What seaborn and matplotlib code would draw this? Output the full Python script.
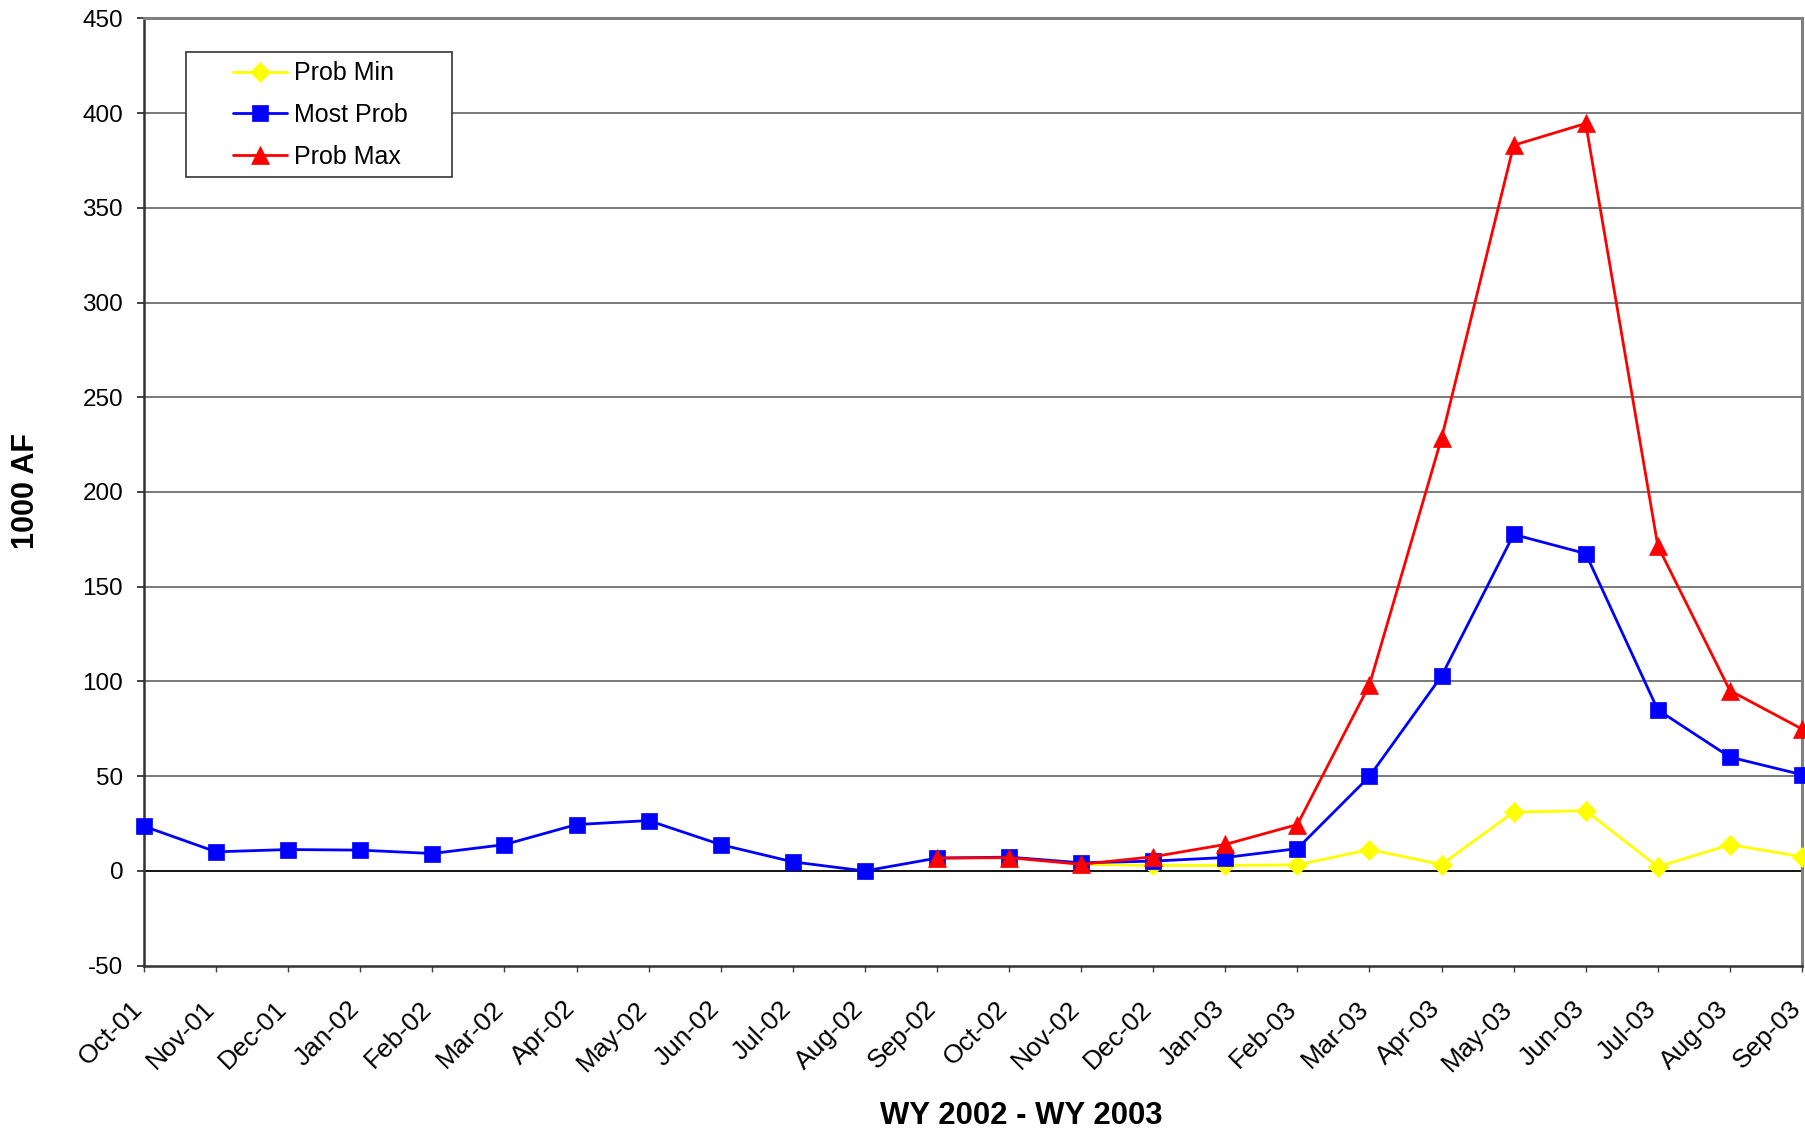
import numpy as np
import pandas as pd
import matplotlib
matplotlib.use("Agg")
import matplotlib.pyplot as plt
from matplotlib.patches import Rectangle
import seaborn as sns

# Monthly runoff forecast, water years 2002-2003 (1000 acre-feet)
months = ["Oct-01", "Nov-01", "Dec-01", "Jan-02", "Feb-02", "Mar-02", "Apr-02",
          "May-02", "Jun-02", "Jul-02", "Aug-02", "Sep-02", "Oct-02", "Nov-02",
          "Dec-02", "Jan-03", "Feb-03", "Mar-03", "Apr-03", "May-03", "Jun-03",
          "Jul-03", "Aug-03", "Sep-03"]

most_prob = [23.6, 10.1, 11.3, 11.0, 9.2, 13.9, 24.5, 26.6, 13.9, 4.8, 0.0,
             6.8, 7.3, 4.3, 5.2, 7.1, 11.8, 49.9, 102.9, 177.6, 167.5, 85.0,
             60.1, 50.8]

# forecast bounds begin later in the record
max_months = months[11:]
prob_max = [6.8, 7.0, 3.5, 7.5, 14.0, 24.5, 98.3, 228.4, 383.0, 394.5, 171.5,
            95.2, 74.9]

min_months = months[13:]
prob_min = [3.5, 2.9, 2.9, 3.2, 11.3, 3.4, 31.1, 31.8, 2.2, 13.9, 7.5]

y_ticks = list(range(-50, 451, 50))

sns.set_theme(style="white")
plt.rcParams["font.family"] = ["Liberation Sans", "DejaVu Sans"]
plt.rcParams.update({"text.color": "black", "axes.labelcolor": "black",
                     "xtick.color": "black", "ytick.color": "black"})

W, H = 1806, 1137
fig = plt.figure(figsize=(W / 100, H / 100), dpi=100)
ax = fig.add_axes([144 / W, 1 - 965.7 / H, (1802 - 144) / W, (965.7 - 18.3) / H])

pos = {m: i for i, m in enumerate(months)}

df_min = pd.DataFrame({"x": [pos[m] for m in min_months], "y": prob_min})
df_most = pd.DataFrame({"x": [pos[m] for m in months], "y": most_prob})
df_max = pd.DataFrame({"x": [pos[m] for m in max_months], "y": prob_max})

# horizontal gridlines
for v in y_ticks:
    if v == 0:
        ax.axhline(0, color="black", lw=1.3, zorder=1)
    elif v not in (-50, 450):
        ax.axhline(v, color="#6e6e6e", lw=1.3, zorder=1)

sns.lineplot(data=df_min, x="x", y="y", ax=ax, color="#ffff00", lw=2.0,
             marker="D", markersize=10.5, markeredgecolor="#ffff00",
             markeredgewidth=0.5, label="Prob Min", zorder=3, clip_on=False)
sns.lineplot(data=df_most, x="x", y="y", ax=ax, color="#0000ff", lw=2.0,
             marker="s", markersize=11.5, markeredgecolor="#0000ff",
             markeredgewidth=0.5, label="Most Prob", zorder=4, clip_on=False)
sns.lineplot(data=df_max, x="x", y="y", ax=ax, color="#ff0000", lw=2.0,
             marker="^", markersize=13, markeredgecolor="#ff0000",
             markeredgewidth=0.5, label="Prob Max", zorder=5, clip_on=False)

ax.set_xlim(0, len(months) - 1)
ax.set_ylim(-50, 450)
ax.set_yticks(y_ticks)
ax.set_yticklabels([str(v) for v in y_ticks], fontsize=17.5)
ax.set_xticks(range(len(months)))
ax.set_xticklabels(months, fontsize=19, rotation=45, ha="right",
                   va="baseline", rotation_mode="anchor")
ax.tick_params(axis="y", which="major", direction="out", length=5, width=1.2,
               color="#222222", pad=10, left=True)
ax.tick_params(axis="x", which="major", direction="out", length=4.3, width=1.0,
               color="#444444", pad=27.5, bottom=True)

ax.set_xlabel("WY 2002 - WY 2003", fontsize=22.4, fontweight="bold")
ax.xaxis.set_label_coords((1021 - 144) / 1658, (965.7 - 1116.5) / 947.4)
ax.xaxis.label.set_va("center")
ax.set_ylabel("1000 AF", fontsize=22, fontweight="bold")
ax.yaxis.set_label_coords((26.5 - 144) / 1658, (965.7 - 491) / 947.4)
ax.yaxis.label.set_va("center")

for side in ("left", "bottom"):
    ax.spines[side].set_color("#333333")
    ax.spines[side].set_linewidth(1.8)
for side in ("top", "right"):
    ax.spines[side].set_visible(True)
    ax.spines[side].set_color("#808080")
    ax.spines[side].set_linewidth(2.2)

# legend box and entries
box = Rectangle((185.7 / W, 1 - 177.3 / H), (452 - 185.7) / W, (177.3 - 52) / H,
                transform=fig.transFigure, facecolor="white",
                edgecolor="#333333", lw=1.2, zorder=9)
ax.add_patch(box)
leg = ax.legend(loc="center left", bbox_to_anchor=(233.3 / W, 1 - 115 / H),
                bbox_transform=fig.transFigure, fontsize=18, frameon=False,
                borderpad=0, labelspacing=0.7, handlelength=2.16,
                handletextpad=0.26, borderaxespad=0)
leg.set_zorder(10)

fig.savefig("out.png", dpi=100)
